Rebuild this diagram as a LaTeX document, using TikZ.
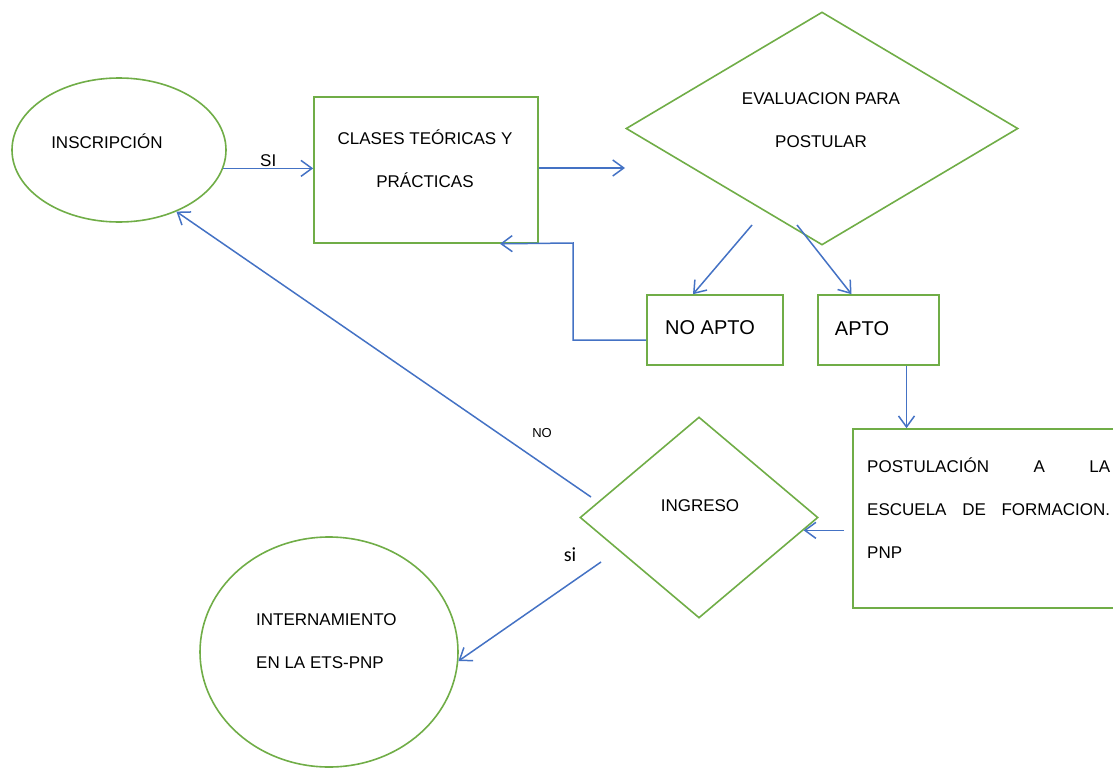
\documentclass[tikz,border=0pt]{standalone}
\usepackage{fontspec}
\setmainfont{Liberation Sans}
\newfontfamily\sifont{Carlito}
\usetikzlibrary{shapes.geometric,arrows.meta}
\definecolor{verde}{HTML}{70AD47}
\definecolor{azul}{HTML}{4472C4}
\begin{document}
\begin{tikzpicture}[x=1pt,y=-1pt,
				caja/.style={draw=verde,line width=1.6pt,rectangle,inner sep=0pt},
				elipse/.style={draw=verde,line width=1.6pt,ellipse,inner sep=0pt},
				rombo/.style={draw=verde,line width=1.6pt,diamond,inner sep=0pt},
				texto/.style={font=\fontsize{17}{43}\selectfont,align=center,inner sep=0pt},
				grande/.style={font=\fontsize{20}{24}\selectfont,inner sep=0pt},
				flecha/.style={draw=azul,line width=1.5pt,-{Straight Barb[length=11pt,width=16pt]}}]
				\useasboundingbox (0,0) rectangle (1113,768);
				\clip (0,0) rectangle (1113,768);
				\node[elipse,minimum width=214pt,minimum height=144pt] (insc) at (119,150) {};
				\node[texto] (inscT) at (107,141) {INSCRIPCIÓN};
				\node[caja,minimum width=224pt,minimum height=146pt] (clases) at (426,170) {};
				\node[texto] (clasesT) at (425,159) {CLASES TEÓRICAS Y\\PRÁCTICAS};
				\node[rombo,minimum width=392pt,minimum height=233pt] (eval) at (822,128.5) {};
				\node[texto] (evalT) at (821,120) {EVALUACION PARA\\POSTULAR};
				\node[caja,minimum width=136pt,minimum height=70pt] (noapto) at (715,330) {};
				\node[grande] (noaptoT) at (710,328) {NO APTO};
				\node[caja,minimum width=121pt,minimum height=70pt] (apto) at (878.5,330) {};
				\node[grande] (aptoT) at (862,329) {APTO};
				\node[caja,minimum width=290pt,minimum height=179pt] (post) at (998,518.5) {};
				\node[texto,anchor=west,align=left] (postT) at (867,508)
					{\hbox to 243pt{POSTULACIÓN\hfill A\hfill LA}\\\hbox to 243pt{ESCUELA\hfill DE\hfill FORMACION.}\\PNP};
				\node[rombo,minimum width=238pt,minimum height=201pt] (ingreso) at (699,517.5) {};
				\node[texto] (ingresoT) at (700,506) {INGRESO};
				\node[elipse,minimum width=258pt,minimum height=230pt] (intern) at (329,652) {};
				\node[texto,anchor=west,align=left] (internT) at (256,641.5) {INTERNAMIENTO\\EN LA ETS-PNP};
				\coordinate (aEval) at (625,168);
				\coordinate (sNo) at (752,225);
				\coordinate (sSi) at (797,225);
				\coordinate (vuelta) at (573,243);
				\coordinate (sRech) at (591,497);
				\coordinate (sIng) at (601,562);
				\draw[flecha] (insc.-10) -- (insc.-10 -| clases.west)
					node[midway,above,inner sep=1pt,font=\fontsize{17}{20}\selectfont] (siA) {SI};
				\draw[flecha] (clases.east |- aEval) -- (aEval);
				\draw[flecha] (sNo) -- ([xshift=-22pt]noapto.north);
				\draw[flecha] (sSi) -- ([xshift=-27pt]apto.north);
				\draw[flecha] ([yshift=-10pt]noapto.west) -| (vuelta) -- ([xshift=74pt]clases.south);
				\draw[flecha] ([xshift=28pt]apto.south) -- ([xshift=28pt]apto.south |- post.north);
				\draw[flecha] ([xshift=-8pt]post.west |- ingreso.-7) -- (ingreso.-7);
				\draw[flecha] (sRech) -- (insc.-47);
				\node[font=\fontsize{13}{15}\selectfont,inner sep=0pt] (noT) at (542,433) {NO};
				\draw[flecha] (sIng) -- (intern.-4);
				\node[font=\sifont\fontsize{20}{24}\selectfont,inner sep=0pt] (siB) at (570,555) {si};
			\end{tikzpicture}
\end{document}
